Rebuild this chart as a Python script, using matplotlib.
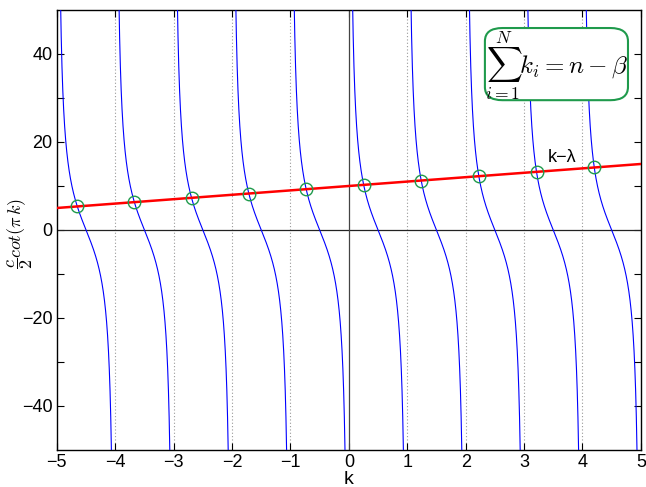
import numpy as np
import matplotlib
matplotlib.use('Agg')
import matplotlib.pyplot as plt
from matplotlib.patches import FancyBboxPatch

# parameters
c_half = 10.5          # c/2
lam = -10.0            # line is k - lambda
k_range = [-5, 5]
y_range = [-50, 50]
x_ticks = [-5, -4, -3, -2, -1, 0, 1, 2, 3, 4, 5]
y_ticks = [-40, -30, -20, -10, 0, 10, 20, 30, 40]
y_labels = ['\u221240', '', '\u221220', '', '0', '', '20', '', '40']
x_labels = ['\u22125', '\u22124', '\u22123', '\u22122', '\u22121', '0', '1', '2', '3', '4', '5']

plt.rcParams['font.family'] = ['Liberation Sans', 'DejaVu Sans']
plt.rcParams['mathtext.fontset'] = 'cm'

fig = plt.figure(figsize=(6.46, 4.87), dpi=100)
ax = fig.add_axes([0.088, 0.076, 0.904, 0.9035])

# blue cot branches, one per unit interval
for n in range(k_range[0], k_range[1]):
    k = np.linspace(n + 1e-4, n + 1 - 1e-4, 2000)
    ax.plot(k, c_half / np.tan(np.pi * k), color='#0000ff', lw=0.8, zorder=3)

# red line k - lambda
kl = np.array(k_range, dtype=float)
ax.plot(kl, kl - lam, color='#ff0000', lw=1.8, zorder=4)

# intersections (one per branch)
roots = []
for n in range(k_range[0], k_range[1]):
    a, b = n + 1e-6, n + 0.5
    f = lambda x: c_half / np.tan(np.pi * x) - (x - lam)
    for _ in range(80):
        m = 0.5 * (a + b)
        if f(a) * f(m) <= 0:
            b = m
        else:
            a = m
    roots.append(0.5 * (a + b))
roots = np.array(roots)
ax.plot(roots, roots - lam, 'o', ms=9, mfc='none', mec='#1f9a4c', mew=1.0, zorder=5)

# dotted verticals at integers, zero lines
for n in range(k_range[0] + 1, k_range[1]):
    if n != 0:
        ax.axvline(n, color='#999999', ls=(0, (1, 2)), lw=0.8, zorder=1)
ax.axhline(0, color='#222222', lw=0.9, zorder=2)
ax.axvline(0, color='#444444', lw=0.9, zorder=2)

ax.set_xlim(k_range)
ax.set_ylim(y_range)
ax.set_xticks(x_ticks)
ax.set_xticklabels(x_labels)
ax.set_yticks(y_ticks)
ax.set_yticklabels(y_labels)
ax.tick_params(direction='in', top=True, right=True, length=5, labelsize=13, width=0.8, pad=3)
for s in ax.spines.values():
    s.set_linewidth(1.0)

ax.set_xlabel('k', fontsize=14, labelpad=0)
# y label placed by hand so it sits inside the figure
fig.text(0.032, 0.52, r'$\dfrac{c}{2}cot(\pi\, k)$', rotation=90,
         ha='center', va='center', fontsize=13)

ax.text(3.4, 16.4, 'k\u2212\u03bb', fontsize=13, va='center', zorder=6)

# equation box
box = FancyBboxPatch((0.733, 0.795), 0.245, 0.164, boxstyle='round,pad=0,rounding_size=0.03',
                     transform=ax.transAxes, fc='white', ec='#1f9a4c', lw=1.5, zorder=6)
ax.add_patch(box)
ax.text(0.856, 0.872, r'$\sum_{i=1}^{N} k_i = n - \beta$', transform=ax.transAxes,
        ha='center', va='center', fontsize=18, zorder=7)

fig.savefig('out.png', dpi=100)
